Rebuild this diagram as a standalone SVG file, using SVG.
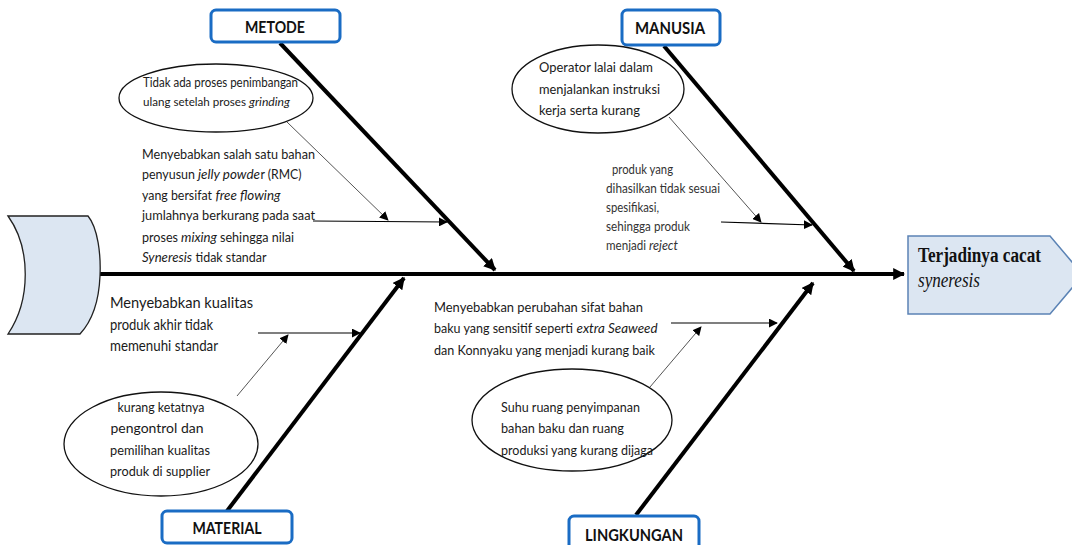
<svg xmlns="http://www.w3.org/2000/svg" width="1072" height="545" viewBox="0 0 1072 545">
<style>
.t{font-family:Lato,"Liberation Sans",sans-serif;fill:#1a1a1a}
.e124{font-size:13px}
.e12{font-size:12.3px}
.m134{font-size:14px}
.m135{font-size:14px}
.m13{font-size:13.4px}
.m123{font-size:13px;fill:#333}
.m156{font-size:16px}
.lbl{font-family:Lato,"Liberation Sans",sans-serif;font-weight:bold;font-size:17px;fill:#111;text-anchor:middle}
.box{fill:#fff;stroke:#1a6cc4;stroke-width:3}
.ell{fill:#fff;stroke:#111;stroke-width:1.3}
.bone{stroke:#000;stroke-width:4;fill:none}
.thin{stroke:#000;stroke-width:1.2;fill:none}
.gray{stroke:#555;stroke-width:1;fill:none}
.i{font-style:italic}
</style>
<defs>
<marker id="big" viewBox="0 0 10 10" refX="9" refY="5" markerWidth="12" markerHeight="12" markerUnits="userSpaceOnUse" orient="auto"><path d="M0,0 L10,5 L0,10 z" fill="#000"/></marker>
<marker id="sm" viewBox="0 0 10 10" refX="9" refY="5" markerWidth="9" markerHeight="9" markerUnits="userSpaceOnUse" orient="auto"><path d="M0,0 L10,5 L0,10 z" fill="#000"/></marker>
</defs>
<rect width="1072" height="545" fill="#fff"/>

<g id="connectors">
<path class="bone" d="M100,274 L904,274" marker-end="url(#big)"/>
<path class="bone" d="M280,43 L495,270" marker-end="url(#big)"/>
<path class="bone" d="M664,46 L854,271" marker-end="url(#big)"/>
<path class="bone" d="M227,511 L404,278" marker-end="url(#big)"/>
<path class="bone" d="M636,515 L813,283" marker-end="url(#big)"/>
<path class="gray" d="M287,122 L388,220" marker-end="url(#sm)"/>
<path class="thin" d="M313,221 L447,222" marker-end="url(#sm)"/>
<path class="gray" d="M669,117 L761,222" marker-end="url(#sm)"/>
<path class="thin" d="M721,222 L812,225" marker-end="url(#sm)"/>
<path class="gray" d="M237,396 L288,335" marker-end="url(#sm)"/>
<path class="thin" d="M258,333 L360,333" marker-end="url(#sm)"/>
<path class="gray" d="M650,387 L701,327" marker-end="url(#sm)"/>
<path class="thin" d="M671,323 L777,323" marker-end="url(#sm)"/>
</g>

<g id="tail">
<path d="M8,216 L88,216 C98,228 101,255 100,276 C99,300 93,320 80,334 L8,334 C31,300 31,248 8,216 Z" fill="#dce6f2" stroke="#222" stroke-width="1.3"/>
</g>

<g id="head">
<polygon points="908,236 1050,236 1083,275 1050,314 908,314" fill="#dce6f2" stroke="#5b83b5" stroke-width="1.5"/>
<text x="918" y="262" font-family="'Liberation Serif','Times New Roman',serif" font-weight="bold" font-size="20" fill="#111" textLength="123" lengthAdjust="spacingAndGlyphs">Terjadinya cacat</text>
<text x="918" y="287" font-family="'Liberation Serif','Times New Roman',serif" font-style="italic" font-size="20" fill="#111" textLength="62" lengthAdjust="spacingAndGlyphs">syneresis</text>
</g>

<g id="metode">
<rect class="box" x="211" y="10" width="129" height="32" rx="5"/>
<text class="lbl" x="275" y="33" textLength="60" lengthAdjust="spacingAndGlyphs">METODE</text>
</g>
<g id="manusia">
<rect class="box" x="622" y="10" width="98" height="35" rx="5"/>
<text class="lbl" x="670" y="34" textLength="70" lengthAdjust="spacingAndGlyphs">MANUSIA</text>
</g>
<g id="material">
<rect class="box" x="162" y="511" width="130" height="32" rx="5"/>
<text class="lbl" x="227" y="534" textLength="69" lengthAdjust="spacingAndGlyphs">MATERIAL</text>
</g>
<g id="lingkungan">
<rect class="box" x="569" y="516" width="130" height="40" rx="5"/>
<text class="lbl" x="634" y="541" textLength="98" lengthAdjust="spacingAndGlyphs">LINGKUNGAN</text>
</g>

<g id="metode-cause">
<ellipse class="ell" cx="216" cy="98" rx="97" ry="34"/>
<text class="t e124" x="143" y="87" textLength="155" lengthAdjust="spacingAndGlyphs">Tidak ada proses penimbangan</text>
<text class="t e12" x="143" y="106" textLength="103" lengthAdjust="spacingAndGlyphs">ulang setelah proses</text>
<text class="t e12 i" x="249" y="106" textLength="41" lengthAdjust="spacingAndGlyphs">grinding</text>
</g>
<g id="metode-effect">
<text class="t m134" x="142" y="159" textLength="173" lengthAdjust="spacingAndGlyphs">Menyebabkan salah satu bahan</text>
<text class="t m134" x="142" y="179" textLength="53" lengthAdjust="spacingAndGlyphs">penyusun</text>
<text class="t m134 i" x="198" y="179" textLength="62" lengthAdjust="spacingAndGlyphs">jelly powde</text>
<text class="t m134" x="260.5" y="179" textLength="41" lengthAdjust="spacingAndGlyphs">r (RMC)</text>
<text class="t m134" x="142" y="200" textLength="70" lengthAdjust="spacingAndGlyphs">yang bersifat</text>
<text class="t m134 i" x="215.5" y="200" textLength="65" lengthAdjust="spacingAndGlyphs">free flowing</text>
<text class="t m134" x="142" y="220" textLength="173" lengthAdjust="spacingAndGlyphs">jumlahnya berkurang pada saat</text>
<text class="t m134" x="142" y="242" textLength="36" lengthAdjust="spacingAndGlyphs">proses</text>
<text class="t m134 i" x="181" y="242" textLength="36" lengthAdjust="spacingAndGlyphs">mixing</text>
<text class="t m134" x="220" y="242" textLength="74" lengthAdjust="spacingAndGlyphs">sehingga nilai</text>
<text class="t m134 i" x="142" y="262" textLength="50" lengthAdjust="spacingAndGlyphs">Syneresis</text>
<text class="t m134" x="195.5" y="262" textLength="71" lengthAdjust="spacingAndGlyphs">tidak standar</text>
</g>

<g id="manusia-cause">
<ellipse class="ell" cx="598" cy="89" rx="86" ry="44"/>
<text class="t m135" x="539" y="72" textLength="114" lengthAdjust="spacingAndGlyphs">Operator lalai dalam</text>
<text class="t m135" x="539" y="94" textLength="121" lengthAdjust="spacingAndGlyphs">menjalankan instruksi</text>
<text class="t m135" x="539" y="115" textLength="101" lengthAdjust="spacingAndGlyphs">kerja serta kurang</text>
</g>
<g id="manusia-effect">
<text class="t m123" x="612" y="174" textLength="61" lengthAdjust="spacingAndGlyphs">produk yang</text>
<text class="t m123" x="606" y="193" textLength="114" lengthAdjust="spacingAndGlyphs">dihasilkan tidak sesuai</text>
<text class="t m123" x="606" y="212" textLength="53" lengthAdjust="spacingAndGlyphs">spesifikasi,</text>
<text class="t m123" x="606" y="231" textLength="84" lengthAdjust="spacingAndGlyphs">sehingga produk</text>
<text class="t m123" x="606" y="250" textLength="40" lengthAdjust="spacingAndGlyphs">menjadi</text>
<text class="t m123 i" x="649" y="250" textLength="29" lengthAdjust="spacingAndGlyphs">reject</text>
</g>

<g id="material-effect">
<text class="t m156" x="110" y="308" textLength="143" lengthAdjust="spacingAndGlyphs">Menyebabkan kualitas</text>
<text class="t m156" x="110" y="330" textLength="103" lengthAdjust="spacingAndGlyphs">produk akhir tidak</text>
<text class="t m156" x="110" y="351" textLength="108" lengthAdjust="spacingAndGlyphs">memenuhi standar</text>
</g>
<g id="material-cause">
<ellipse class="ell" cx="161" cy="444" rx="97" ry="52"/>
<text class="t m135" x="161" y="412" text-anchor="middle" textLength="87" lengthAdjust="spacingAndGlyphs">kurang ketatnya</text>
<text class="t m135" x="157" y="433" text-anchor="middle" textLength="93" lengthAdjust="spacingAndGlyphs">pengontrol dan</text>
<text class="t m135" x="160" y="455" text-anchor="middle" textLength="100" lengthAdjust="spacingAndGlyphs">pemilihan kualitas</text>
<text class="t m135" x="160" y="476" text-anchor="middle" textLength="100" lengthAdjust="spacingAndGlyphs">produk di supplier</text>
</g>

<g id="lingkungan-effect">
<text class="t m135" x="434" y="312" textLength="209" lengthAdjust="spacingAndGlyphs">Menyebabkan perubahan sifat bahan</text>
<text class="t m13" x="434" y="333" textLength="139" lengthAdjust="spacingAndGlyphs">baku yang sensitif seperti</text>
<text class="t m13 i" x="576.5" y="333" textLength="81" lengthAdjust="spacingAndGlyphs">extra Seaweed</text>
<text class="t m135" x="434" y="355" textLength="221" lengthAdjust="spacingAndGlyphs">dan Konnyaku yang menjadi kurang baik</text>
</g>
<g id="lingkungan-cause">
<ellipse class="ell" cx="572" cy="420" rx="100" ry="51"/>
<text class="t m134" x="501" y="412" textLength="139" lengthAdjust="spacingAndGlyphs">Suhu ruang penyimpanan</text>
<text class="t m134" x="501" y="433" textLength="123" lengthAdjust="spacingAndGlyphs">bahan baku dan ruang</text>
<text class="t m134" x="501" y="455" textLength="152" lengthAdjust="spacingAndGlyphs">produksi yang kurang dijaga</text>
</g>
</svg>
